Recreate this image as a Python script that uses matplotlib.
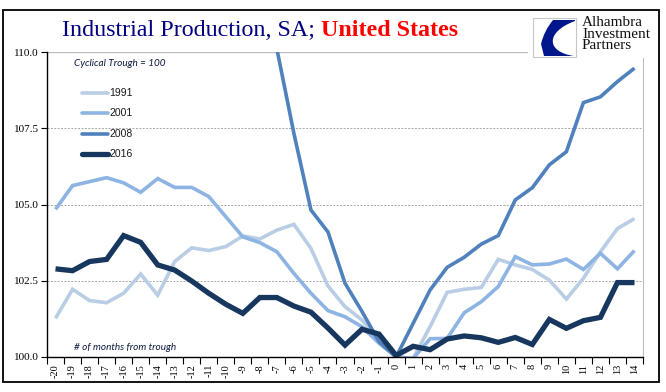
import matplotlib
matplotlib.use("Agg")
import matplotlib.pyplot as plt
from matplotlib.patches import Rectangle, PathPatch
from matplotlib.path import Path

# months from the cyclical trough, trough = 100
months = list(range(-20, 15))

ip_1991 = [101.27, 102.22, 101.85, 101.78, 102.09, 102.72, 102.03, 103.13, 103.58, 103.49,
           103.62, 103.97, 103.87, 104.16, 104.35, 103.56, 102.33, 101.65, 101.21, 100.56,
           100.00, 99.95, 101.00, 102.12, 102.22, 102.28, 103.20, 103.02, 102.87, 102.52,
           101.90, 102.58, 103.45, 104.21, 104.54]
ip_2001 = [104.84, 105.62, 105.75, 105.88, 105.71, 105.40, 105.85, 105.56, 105.56, 105.26,
           104.60, 103.94, 103.75, 103.45, 102.74, 102.09, 101.52, 101.32, 100.99, 100.45,
           100.00, 99.95, 100.60, 100.61, 101.45, 101.81, 102.31, 103.29, 103.02, 103.05,
           103.21, 102.87, 103.40, 102.89, 103.49]
# 2008 is off the top of the chart before month -7 (rough estimates)
ip_2008 = [115.6, 115.9, 116.0, 116.1, 116.0, 115.8, 115.7, 115.3, 114.8, 114.3,
           113.6, 112.4, 112.0, 110.1, 107.33, 104.82, 104.10, 102.42, 101.49, 100.50,
           100.00, 101.10, 102.20, 102.94, 103.27, 103.70, 103.98, 105.15, 105.55, 106.30,
           106.73, 108.34, 108.53, 109.03, 109.47]
ip_2016 = [102.89, 102.83, 103.13, 103.20, 103.98, 103.76, 103.02, 102.85, 102.49, 102.09,
           101.73, 101.43, 101.95, 101.95, 101.67, 101.47, 100.95, 100.39, 100.91, 100.75,
           100.05, 100.35, 100.24, 100.59, 100.69, 100.63, 100.48, 100.64, 100.41, 101.23,
           100.94, 101.19, 101.30, 102.44, 102.44]

series = [("1991", ip_1991, "#B9CDE5", 2.6),
          ("2001", ip_2001, "#8DB4E2", 2.6),
          ("2008", ip_2008, "#4F81BD", 2.6),
          ("2016", ip_2016, "#17375E", 3.8)]

W, H = 666, 392
fig = plt.figure(figsize=(W / 100, H / 100), dpi=100)
ax = fig.add_axes([47 / W, 1 - 357 / H, 596 / W, 305 / H])

for name, vals, col, lw in series:
    ax.plot(months, vals, color=col, lw=lw, solid_joinstyle="miter", solid_capstyle="butt")

ax.set_xlim(-20.5, 14.5)
ax.set_ylim(100, 110)
ax.set_yticks([100, 102.5, 105, 107.5, 110])
ax.set_yticklabels(["%.1f" % v for v in [100, 102.5, 105, 107.5, 110]],
                   family="Liberation Serif", fontsize=8)
ax.set_xticks(months)
ax.set_xticklabels([str(m) for m in months], rotation=90,
                   family="Liberation Serif", fontsize=7.5)
ax.set_xticks([m + 0.5 for m in range(-21, 15)], minor=True)
ax.tick_params(axis="x", which="major", length=0, pad=5)
ax.tick_params(axis="x", which="minor", length=5, width=0.8, direction="out")
ax.tick_params(axis="y", length=4, width=0.8, direction="out", pad=2)

for v in [102.5, 105, 107.5]:
    ax.axhline(v, color="#A6A6A6", lw=0.7, ls=(0, (2, 1.5)), zorder=0)
ax.axhline(110, color="#BFBFBF", lw=1.0, zorder=0)

ax.spines["top"].set_visible(False)
ax.spines["right"].set_color("#BFBFBF")
ax.spines["left"].set_linewidth(1.0)
ax.spines["bottom"].set_linewidth(1.0)

# legend drawn by hand like the original
leg_y = [93, 113, 134, 154]
for (name, vals, col, lw), yp in zip(series, leg_y):
    yf = 1 - yp / H
    fig.add_artist(plt.Line2D([82 / W, 108 / W], [yf, yf], color=col, lw=lw,
                              solid_capstyle="round"))
    fig.text(109 / W, yf, name, ha="left", va="center", fontsize=7.5,
             family="Liberation Sans", color="#1a1a1a")

fig.text(74 / W, 1 - 63 / H, "Cyclical Trough = 100", style="italic", fontsize=7.2,
         family="Lato", color="#0d1a40", va="center")
fig.text(74 / W, 1 - 348 / H, "# of months from trough", style="italic", fontsize=7.2,
         family="Lato", color="#0d1a40", va="center")

# title in two colours
r = fig.canvas.get_renderer()
t1 = fig.text(62 / W, 1 - 36 / H, "Industrial Production, SA; ", family="Liberation Serif",
              fontsize=17.3, color="#000080", va="baseline")
bb = t1.get_window_extent(renderer=r)
fig.text(bb.x1 / W, 1 - 36 / H, "United States", family="Liberation Serif",
         fontsize=17.3, color="#FF0000", weight="bold", va="baseline")

# outer frame
fig.add_artist(Rectangle((3 / W, 1 - 382 / H), 656 / W, 372 / H, fill=False,
                         ec="black", lw=1.3, transform=fig.transFigure))

# logo
fig.add_artist(Rectangle((528 / W, 1 - 58 / H), 129 / W, 45 / H, fc="white", ec="none",
                         transform=fig.transFigure, zorder=5))
fig.add_artist(Rectangle((533 / W, 1 - 57 / H), 43 / W, 39 / H, fc="white", ec="#C8C8C8",
                         lw=0.8, transform=fig.transFigure, zorder=6))


def px(x, y):
    return (x / W, 1 - y / H)


verts = [px(575, 20), px(553, 20),
         px(544, 31), px(541, 44), px(544, 56),
         px(574, 56),
         px(546, 52), px(545, 32), px(575, 21),
         px(575, 20)]
codes = [Path.MOVETO, Path.LINETO,
         Path.CURVE3, Path.CURVE3, Path.LINETO,
         Path.LINETO,
         Path.CURVE4, Path.CURVE4, Path.CURVE4,
         Path.CLOSEPOLY]
fig.add_artist(PathPatch(Path(verts, codes), fc="#00168C", ec="none",
                         transform=fig.transFigure, zorder=7))
fig.text(582 / W, 1 - 16 / H, "Alhambra\nInvestment\nPartners", family="Liberation Serif",
         fontsize=11, color="#111111", va="top", ha="left", linespacing=0.85, zorder=7)

fig.savefig("out.png", dpi=100)
